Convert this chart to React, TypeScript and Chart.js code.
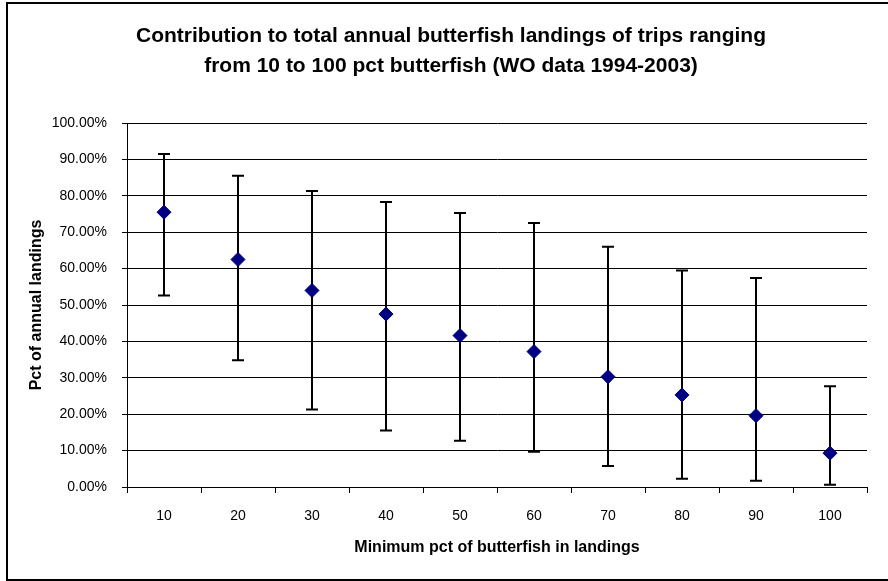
import React, { useEffect, useRef } from "react";
import { Chart, registerables } from "chart.js";

Chart.register(...registerables);

const categories = ["10", "20", "30", "40", "50", "60", "70", "80", "90", "100"];
const means = [75.5, 62.5, 54.0, 47.5, 41.6, 37.2, 30.3, 25.3, 19.6, 9.3];
const upper = [91.5, 85.5, 81.3, 78.3, 75.3, 72.5, 66.0, 59.5, 57.4, 27.7];
const lower = [52.6, 34.8, 21.3, 15.5, 12.7, 9.7, 5.8, 2.3, 1.7, 0.6];
const yTicks = [0, 10, 20, 30, 40, 50, 60, 70, 80, 90, 100];

const titleLines = [
  "Contribution to total annual butterfish landings of trips ranging",
  "from 10 to 100 pct butterfish (WO data 1994-2003)",
];
const xTitle = "Minimum pct of butterfish in landings";
const yTitle = "Pct of annual landings";

const FONT = "'Liberation Sans', Arial, sans-serif";

export default function App() {
  const ref = useRef<HTMLCanvasElement | null>(null);
  useEffect(() => {
    if (!ref.current) return;
    const frame = {
      id: "frame",
      beforeDraw(chart: any) {
        const ctx = chart.ctx;
        ctx.save();
        ctx.fillStyle = "#fff";
        ctx.fillRect(0, 0, chart.width, chart.height);
        ctx.strokeStyle = "#000";
        ctx.lineWidth = 2;
        ctx.strokeRect(7, 3, 900, 577);
        ctx.restore();
      },
      afterDraw(chart: any) {
        const ctx = chart.ctx;
        const area = chart.chartArea;
        ctx.save();
        ctx.fillStyle = "#000";
        ctx.textAlign = "center";
        ctx.textBaseline = "alphabetic";
        ctx.font = `bold 21px ${FONT}`;
        ctx.fillText(titleLines[0], 451, 42);
        ctx.fillText(titleLines[1], 451, 72);
        ctx.textBaseline = "middle";
        ctx.font = `bold 16px ${FONT}`;
        ctx.fillText(xTitle, (area.left + area.right) / 2, 548);
        ctx.translate(37, (area.top + area.bottom) / 2);
        ctx.rotate(-Math.PI / 2);
        ctx.fillText(yTitle, 0, 0);
        ctx.restore();
      },
    };
    const errorBars = {
      id: "errorBars",
      beforeDatasetsDraw(chart: any) {
        const ctx = chart.ctx;
        const xs = chart.scales.x;
        const ys = chart.scales.y;
        ctx.save();
        ctx.strokeStyle = "#000";
        ctx.lineWidth = 2;
        categories.forEach((c, i) => {
          const x = Math.round(xs.getPixelForValue(i));
          const yt = ys.getPixelForValue(upper[i]);
          const yb = ys.getPixelForValue(lower[i]);
          ctx.beginPath();
          ctx.moveTo(x, yt);
          ctx.lineTo(x, yb);
          ctx.moveTo(x - 6, yt);
          ctx.lineTo(x + 6, yt);
          ctx.moveTo(x - 6, yb);
          ctx.lineTo(x + 6, yb);
          ctx.stroke();
        });
        ctx.restore();
      },
    };
    const chart = new Chart(ref.current, {
      type: "line",
      data: {
        labels: categories,
        datasets: [
          {
            data: means,
            showLine: false,
            pointStyle: "rectRot",
            pointRadius: 7,
            pointBackgroundColor: "#000080",
            pointBorderColor: "#000080",
            pointBorderWidth: 1,
          },
        ],
      },
      options: {
        animation: false,
        responsive: false,
        devicePixelRatio: 1,
        layout: { padding: { top: 123, right: 21, bottom: 0, left: 0 } },
        plugins: { legend: { display: false }, tooltip: { enabled: false } },
        scales: {
          x: {
            type: "category",
            offset: true,
            grid: {
              offset: true,
              drawOnChartArea: false,
              drawTicks: true,
              tickLength: 6,
              color: "#000",
            },
            border: { color: "#000", width: 1 },
            ticks: {
              color: "#000",
              font: { family: FONT, size: 14 },
              padding: 15,
              maxRotation: 0,
            },
            afterFit: (s: any) => {
              s.height = 94;
            },
          },
          y: {
            min: 0,
            max: 100,
            afterBuildTicks: (s: any) => {
              s.ticks = yTicks.map((v) => ({ value: v }));
            },
            grid: { color: "#000", lineWidth: 1, tickLength: 5 },
            border: { color: "#000", width: 1 },
            ticks: {
              color: "#000",
              font: { family: FONT, size: 14 },
              padding: 15,
              callback: (v: any) => Number(v).toFixed(2) + "%",
            },
            afterFit: (s: any) => {
              s.width = 127;
            },
          },
        },
      },
      plugins: [frame, errorBars],
    } as any);
    return () => chart.destroy();
  }, []);
  return (
    <div style={{ position: "fixed", left: 0, top: 0, width: 888, height: 581, background: "#fff" }}>
      <canvas ref={ref} width={888} height={581} style={{ display: "block" }} />
    </div>
  );
}
